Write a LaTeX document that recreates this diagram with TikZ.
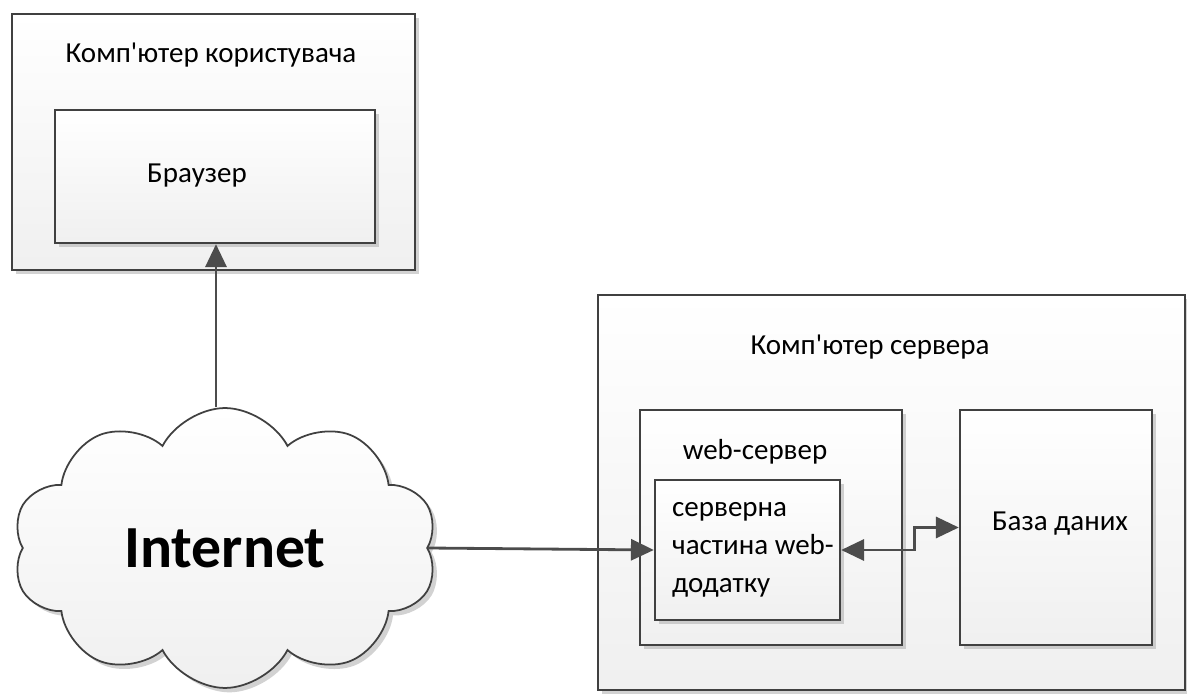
\documentclass[tikz,border=0pt]{standalone}
\usepackage{fontspec}
\setmainfont{Carlito}
\usetikzlibrary{arrows.meta, shapes.symbols, shadows}

\newcommand{\apos}{\textquotesingle}

\tikzset{
  box/.style={draw=black!75, line width=1.4pt, top color=white, bottom color=black!6,
    drop shadow={shadow xshift=2.5pt, shadow yshift=-2.5pt, fill=black!35, opacity=0.5}},
  lbl/.style={font=\fontsize{16.5}{21.5}\selectfont, text=black},
  tip/.tip={Triangle[length=13pt, width=12pt]},
  link/.style={draw=black!70, line width=1.6pt, -tip},
}

\begin{document}
\begin{tikzpicture}[x=0.02cm, y=-0.02cm]
  \useasboundingbox (0,0) rectangle (1187,695);

  % комп'ютер користувача
  \node[box, minimum width=8.06cm, minimum height=5.12cm] (userpc) at (213.5,142) {};
  \node[lbl] (userlbl) at (211,55) {Комп\apos ютер користувача};
  \node[box, minimum width=6.4cm, minimum height=2.66cm] (browser) at (215,176.5) {};
  \node[lbl] (browserlbl) at (197,176) {Браузер};

  % комп'ютер сервера
  \node[box, minimum width=11.74cm, minimum height=7.9cm] (serverpc) at (891.5,492.5) {};
  \node[lbl] (serverlbl) at (870,347) {Комп\apos ютер сервера};
  \node[box, minimum width=5.24cm, minimum height=4.7cm] (websrv) at (771,527.5) {};
  \node[lbl] (websrvlbl) at (755,452) {web-сервер};
  \node[box, minimum width=3.7cm, minimum height=2.8cm] (app) at (747.5,550) {};
  \node[lbl, anchor=west, align=left] (applbl) at (666,550) {серверна\\частина web-\\додатку};
  \node[box, minimum width=3.84cm, minimum height=4.7cm] (db) at (1056,527.5) {};
  \node[lbl] (dblbl) at (1060,524) {База даних};

  % хмара
  \node[box, line width=1pt, cloud, cloud puffs=10, cloud puff arc=125, aspect=1.5,
    minimum width=8.5cm, minimum height=5.6cm, inner sep=0pt,
    font=\fontsize{34}{40}\selectfont\bfseries] (cloud) at (225,548) {Internet};

  % з'єднання
  \coordinate (upx) at (216,0);
  \draw[link] (cloud.north -| upx) -- (browser.south -| upx);
  \draw[link] (cloud.east) -- (app.west);
  \draw[link, tip-tip] (app.east) -- ++(73,0) |- (db.west);
\end{tikzpicture}
\end{document}
